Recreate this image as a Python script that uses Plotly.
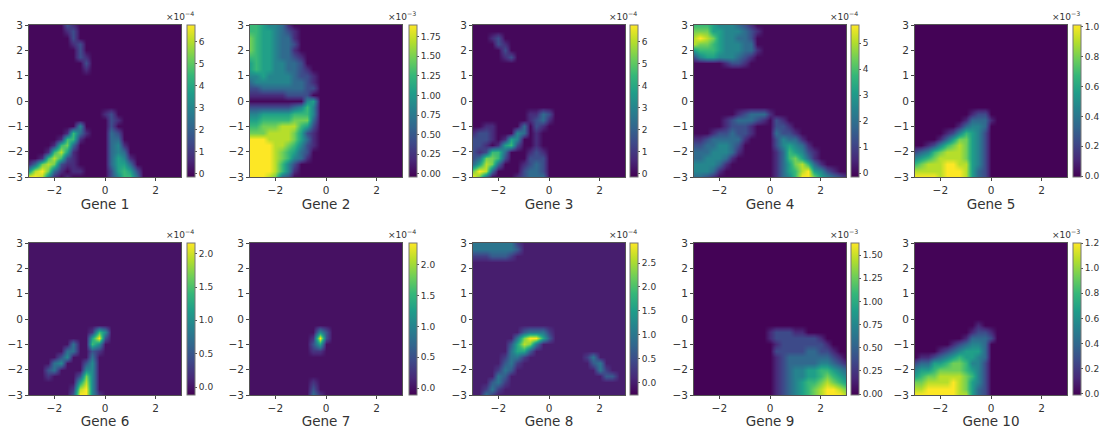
import plotly.graph_objects as go

GRID = [-3 + 0.25 * i for i in range(25)]
GRID_SIZE = 25

# Each gene: rows from y=3 (top) to y=-3 (bottom), columns from x=-3 to x=3.
# Digit = intensity 0-9 relative to the colour-bar top, '.' = 0. Short rows are zero to the right.
GENE_1 = ["......21","......12",".......2",".......12","........2","........21",".........2",".........1","","","","","","",
 "............12",".............21","........4....2","......1631...32",".....1661....33","....1673.....341","...16851.....343",
 "..168621.....3541","13787211.....3553","589731.11....25652","99841.1......24663"]
GENE_2 = ["6654431","66554321","76554331","76554332","76554331","665543321","565544332","5655443321","44544443221","34444443321",
 "22333333322","1111112222",".........45","22222223464","44555556664","55666667773","66777888652","77788887521","99988887531",
 "99998876421","9999876532","9999876431","99998642","99998641","9998732"]
GENE_3 = ["","","...12","....21",".....2",".....12","","","","","","","","",".........1132",".........1231","..11....3.21",
 "1221...43.1","2221.154..1","221.1562..1","212663...121","237762...222","35873...1232","7983....2332","973....12333"]
GENE_4 = ["6665444321","77755444321","8987544332","8776544433","56665444331","2455444321",".....1221","","","","","","","",
 ".......123331",".....1233321.21",".....12221...221","...1223221...3221","112333331....24331","22334432.....245431",
 "33344431.....1365421","3344431......1367531","444431.......13578631","44431........1356895421","3321.........134699754321"]
GENE_5 = ["","","","","","","","","","","","","","",".........122","........13331",".......13443",".....1246542","....13577542",
 "..1246787542","234678887542","456788887542","678889988542","888889998532","999989998532"]
GENE_6 = ["","","","","","","","","","","","","","","..........164","..........592",".......3..64","......33..21",".....24...3",
 "....34...24","...23....44","...1....274","........584",".......1894",".......29941"]
GENE_7 = ["","","","","","","","","","","","","","","...........42","..........192","..........25","..........11","","","","",
 "..........1","..........2","..........31"]
GENE_8 = ["33333331","33333332","1112221","","","","","","","","","","","","........23331",".......379952","......25873","......3552",
 ".....1331.........13",".....231...........23","....132.............31","....32...............22","...231","..131","..31"]
GENE_9 = ["","","","","","","","","","","","","","","............122211","............122222221",".............122222221",
 ".............2222233221",".............12333333321",".............123333344321",".............123445566543",
 ".............123445567654",".............123456678765",".............123456789987",".............123456789998"]
GENE_10 = ["","","","","","","","","","","","","","..........1",".........1221","........13332","......123443","....12345553",
 ".11234565543","233556776442","455677776542","567788887642","778888987542","889999987532","999999988532"]

GENES = [GENE_1, GENE_2, GENE_3, GENE_4, GENE_5, GENE_6, GENE_7, GENE_8, GENE_9, GENE_10]
NAMES = ["Gene %d" % (i + 1) for i in range(10)]
ZMIN = [-0.14, -0.04, -0.14, -0.15, -0.005, -0.12, -0.11, -0.26, -0.01, -0.01]
ZMAX = [6.77, 1.90, 6.77, 5.70, 1.01, 2.16, 2.35, 2.92, 1.63, 1.20]
EXPONENT = [-4, -3, -4, -4, -3, -4, -4, -4, -3, -3]
CB_TICKS = [
    ["0", "1", "2", "3", "4", "5", "6"],
    ["0.00", "0.25", "0.50", "0.75", "1.00", "1.25", "1.50", "1.75"],
    ["0", "1", "2", "3", "4", "5", "6"],
    ["0", "1", "2", "3", "4", "5"],
    ["0.0", "0.2", "0.4", "0.6", "0.8", "1.0"],
    ["0.0", "0.5", "1.0", "1.5", "2.0"],
    ["0.0", "0.5", "1.0", "1.5", "2.0"],
    ["0.0", "0.5", "1.0", "1.5", "2.0", "2.5"],
    ["0.00", "0.25", "0.50", "0.75", "1.00", "1.25", "1.50"],
    ["0.0", "0.2", "0.4", "0.6", "0.8", "1.0", "1.2"],
]
AXIS_TICKS_X = [-2, 0, 2]
AXIS_TICKS_Y = [-3, -2, -1, 0, 1, 2, 3]

W, H = 1102, 429
AX_LEFT = [29, 250, 473, 694, 915]
CB_LEFT = [187, 409, 630, 851, 1073]
ROW_TOP = [25, 243]
SIZE = 152
TEXT = "#333333"
FONT = "DejaVu Sans"


def decode(rows, zmax):
    z = []
    for row in rows:
        cells = row.ljust(GRID_SIZE, ".")
        z.append([0.0 if c == "." else int(c) / 9 * zmax for c in cells])
    return z[::-1]


fig = go.Figure()
layout = dict(
    width=W, height=H, margin=dict(l=0, r=0, t=0, b=0, autoexpand=False),
    paper_bgcolor="white", plot_bgcolor="white", showlegend=False,
    font=dict(family=FONT, color=TEXT, size=11), annotations=[],
)
for k in range(10):
    r, c = divmod(k, 5)
    suffix = "" if k == 0 else str(k + 1)
    top = ROW_TOP[r]
    fig.add_trace(go.Heatmap(
        x=GRID, y=GRID[:], z=decode(GENES[k], ZMAX[k]),
        zmin=ZMIN[k], zmax=ZMAX[k], zsmooth="best", colorscale="Viridis",
        xaxis="x" + suffix, yaxis="y" + suffix, hoverinfo="skip",
        colorbar=dict(
            x=CB_LEFT[c] / W, xanchor="left", xpad=0, ypad=0,
            y=1 - (top + SIZE) / H, yanchor="bottom", len=SIZE / H, lenmode="fraction",
            thickness=8, thicknessmode="pixels", outlinewidth=1, outlinecolor="#777777",
            tickvals=[float(t) for t in CB_TICKS[k]], ticktext=CB_TICKS[k],
            ticks="outside", ticklen=2, tickwidth=1, tickcolor="#555555",
            tickfont=dict(size=9, color=TEXT, family=FONT),
        ),
    ))
    axis_common = dict(
        range=[-3, 3], showgrid=False, zeroline=False, ticks="outside", ticklen=3, tickwidth=1,
        tickcolor="#444444", showline=True, mirror=True, linecolor="#555555", linewidth=1,
        tickfont=dict(size=10.5, color=TEXT, family=FONT),
    )
    layout["xaxis" + suffix] = dict(
        axis_common, domain=[AX_LEFT[c] / W, (AX_LEFT[c] + SIZE) / W], anchor="y" + suffix,
        tickvals=AXIS_TICKS_X, ticktext=["\u22122", "0", "2"],
        title=dict(text=NAMES[k], font=dict(size=13.5, color=TEXT, family=FONT), standoff=1),
    )
    layout["yaxis" + suffix] = dict(
        axis_common, domain=[1 - (top + SIZE) / H, 1 - top / H], anchor="x" + suffix,
        tickvals=AXIS_TICKS_Y, ticktext=["\u22123", "\u22122", "\u22121", "0", "1", "2", "3"],
    )
    layout["annotations"].append(dict(
        text="\u00d710<sup>\u2212%d</sup>" % abs(EXPONENT[k]), showarrow=False,
        xref="paper", yref="paper", x=(CB_LEFT[c] + 9) / W, y=1 - (top - 1) / H,
        xanchor="right", yanchor="bottom", font=dict(size=9, color=TEXT, family=FONT),
    ))
fig.update_layout(**layout)
# Remove the browser's default page margin so the figure fills the window exactly.
fig.write_html("out.html", post_script="document.body.style.margin='0';",
               config={"displayModeBar": False})
